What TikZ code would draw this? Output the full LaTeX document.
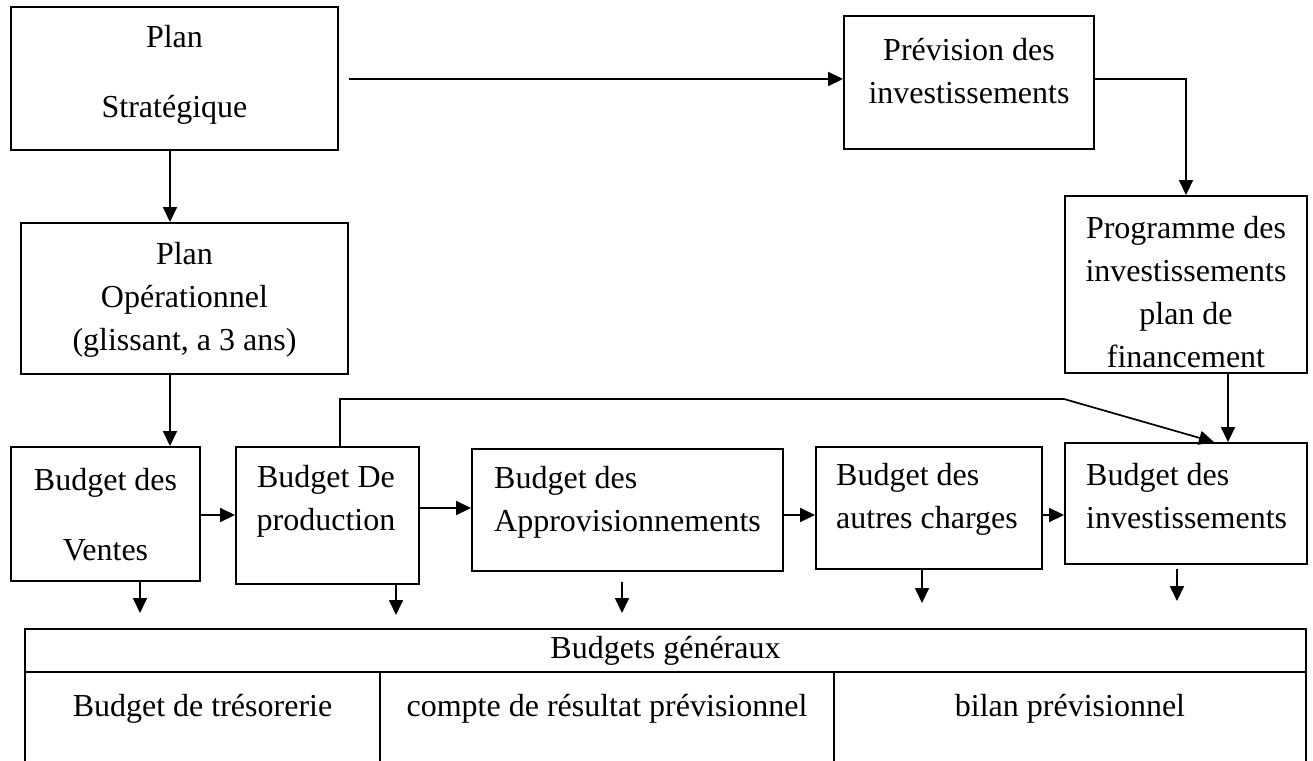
\documentclass[tikz,border=0pt]{standalone}
\usepackage{fontspec}
\setmainfont{Liberation Serif}
\usetikzlibrary{arrows.meta,calc}
\begin{document}
\begin{tikzpicture}[x=1pt,y=-1pt,
  box/.style 2 args={draw,line width=1.9pt,inner sep=0pt,minimum width=#1,minimum height=#2},
  txt/.style={font=\fontsize{32}{43}\selectfont,inner sep=0pt,align=center},
  txtl/.style={font=\fontsize{32}{43}\selectfont,inner sep=0pt,align=left,anchor=west},
  arr/.style={-{Triangle[length=15pt,width=14pt]},line width=1.7pt},
  rule/.style={line width=1.9pt}]
\useasboundingbox (0,0) rectangle (1313,760);

% planning boxes
\node[box={327pt}{143pt}] (strat) at (174.5,78.5) {};
\node[txt] (strat-t) at (174.5,75) {Plan\\[27pt]Stratégique};
\node[box={250pt}{133pt}] (prev) at (969,82.5) {};
\node[txt] (prev-t) at (969,71) {Prévision des\\investissements};
\node[box={327pt}{151pt}] (oper) at (184.5,298.5) {};
\node[txt] (oper-t) at (184.5,300) {Plan\\Opérationnel\\(glissant, a 3 ans)};
\node[box={242pt}{177pt}] (prog) at (1186,284.5) {};
\node[txt] (prog-t) at (1186,292) {Programme des\\investissements\\plan de\\financement};

% operating budgets
\node[box={189pt}{134pt}] (vent) at (105.5,514) {};
\node[txt] (vent-t) at (105.5,515) {Budget des\\[27pt]Ventes};
\node[box={183pt}{137pt}] (prod) at (327.5,515.5) {};
\node[txt] (prod-t) at (326,501) {Budget De\\production};
\node[box={311pt}{122pt}] (appro) at (627.5,510) {};
\node[txtl] (appro-t) at (494,502) {Budget des\\Approvisionnements};
\node[box={226pt}{122pt}] (autres) at (929,508) {};
\node[txtl] (autres-t) at (836,499) {Budget des\\autres charges};
\node[box={242pt}{121pt}] (inv) at (1186,503.5) {};
\node[txtl] (inv-t) at (1086,496) {Budget des\\investissements};

% general budgets table
\draw[rule] (25,629) rectangle (1306,775);
\draw[rule] (25,672) -- (1306,672);
\draw[rule] (380,672) -- (380,775);
\draw[rule] (834,672) -- (834,775);
\node[txt] (gen) at (665.5,651) {Budgets généraux};
\node[txt] (tres) at (202.5,709) {Budget de trésorerie};
\node[txt] (cr) at (607,709) {compte de résultat prévisionnel};
\node[txt] (bil) at (1070,709) {bilan prévisionnel};

% connectors
\coordinate (c1) at (170,0);
\coordinate (c2) at (1228,0);
\coordinate (c3) at (1214,0);
\coordinate (r0) at (0,79);
\coordinate (r1) at (0,515);
\coordinate (r2) at (0,508);
\coordinate (k1) at (340,399);
\coordinate (k2) at (1064,399);

\draw[arr] (strat.south -| c1) -- (oper.north -| c1);
\draw[arr] (oper.south -| c1) -- (vent.north -| c1);
\draw[arr] ($(strat.east |- r0)+(10,0)$) -- (prev.west |- r0);
\draw[arr] (prev.east |- r0) -| (prog.north);
\draw[arr] (prog.south -| c2) -- (inv.north -| c2);
\draw[arr] (prod.north -| k1) -- (k1) -- (k2) -- (inv.north -| c3);

\draw[arr] (vent.east |- r1) -- (prod.west |- r1);
\draw[arr] (prod.east |- r2) -- (appro.west |- r2);
\draw[arr] (appro.east |- r1) -- (autres.west |- r1);
\draw[arr] (autres.east |- r1) -- (inv.west |- r1);

% outputs towards the general budgets
\coordinate (d1) at (140,613);
\coordinate (d2) at (396,615);
\coordinate (d3) at (622,613);
\coordinate (d4) at (922,603);
\coordinate (d5) at (1177,601);
\draw[arr] (vent.south -| d1) -- (d1);
\draw[arr] (prod.south -| d2) -- (d2);
\draw[arr] ($(appro.south -| d3)+(0,10)$) -- (d3);
\draw[arr] (autres.south -| d4) -- (d4);
\draw[arr] ($(inv.south -| d5)+(0,4)$) -- (d5);
\end{tikzpicture}
\end{document}
